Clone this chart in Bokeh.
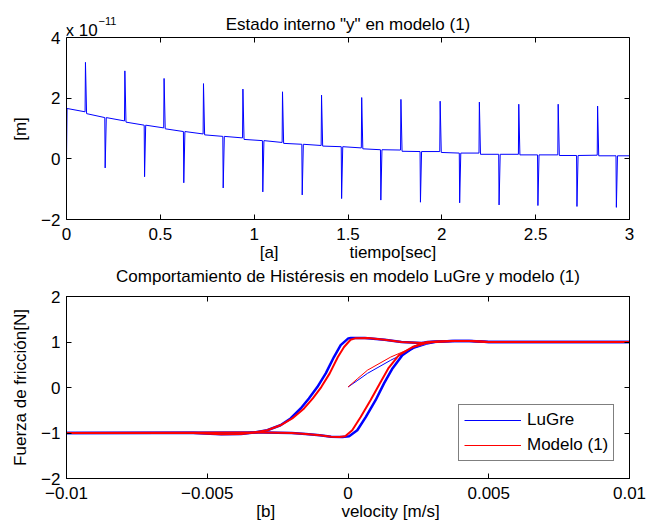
from bokeh.plotting import figure
from bokeh.models import LinearAxis, FixedTicker, Range1d, Label, Legend, LegendItem
from bokeh.layouts import column
from bokeh.embed import file_html
from bokeh.resources import INLINE

FONT = "Liberation Sans"
FS = "17px"
NB = "\u00a0"

# ---------------- top chart data (y in units of 1e-11 m) ----------------
start_t = [0.0, 0.003]
start_y = [0.0, 1.66]
up_spike_t = [0.101, 0.311, 0.520, 0.730, 0.940, 1.151, 1.359, 1.573, 1.782, 1.991, 2.200, 2.410, 2.620, 2.830]
up_spike_peak = [3.18, 2.90, 2.65, 2.48, 2.30, 2.21, 2.10, 2.02, 1.96, 1.90, 1.87, 1.80, 1.80, 1.74]
up_base_before = [1.55, 1.25, 1.02, 0.82, 0.69, 0.54, 0.44, 0.36, 0.29, 0.24, 0.19, 0.15, 0.13, 0.12]
up_base_after = [1.49, 1.21, 0.99, 0.79, 0.64, 0.51, 0.42, 0.33, 0.25, 0.21, 0.15, 0.13, 0.11, 0.10]
down_spike_t = [0.206, 0.416, 0.625, 0.835, 1.046, 1.256, 1.466, 1.675, 1.886, 2.095, 2.305, 2.512, 2.720, 2.930]
down_spike_peak = [-0.30, -0.59, -0.79, -0.96, -1.09, -1.19, -1.31, -1.36, -1.43, -1.45, -1.52, -1.54, -1.57, -1.60]
down_base = [1.36, 1.11, 0.90, 0.74, 0.60, 0.48, 0.40, 0.30, 0.24, 0.19, 0.15, 0.13, 0.11, 0.10]
end_t = [3.0]
end_y = [0.10]

top_xticks = [0, 0.5, 1, 1.5, 2, 2.5, 3]
top_yticks = [-2, 0, 2, 4]
top_ymin, top_ymax = -2, 4

# ---------------- bottom chart data ----------------
lugre_dn_v = [0.01, 0.005, 0.0043, 0.0037, 0.003, 0.0026, 0.0019, 0.0013, 0.0006, 0.0001, 0.00001,
              -0.00026, -0.0005, -0.00079, -0.00109, -0.00139, -0.00168, -0.00204, -0.0024, -0.00287,
              -0.00334, -0.0038, -0.0045, -0.0055, -0.01]
lugre_dn_f = [1.0, 1.0, 1.02, 1.02, 1.0, 0.98, 1.0, 1.05, 1.09, 1.09, 1.08,
              0.93, 0.67, 0.31, 0.01, -0.24, -0.46, -0.68, -0.83, -0.94,
              -0.99, -1.02, -1.03, -1.0, -1.0]
lugre_up_v = [-0.01, -0.003, -0.002, -0.0015, -0.001, -0.0006, -0.0002, 0.00004, 0.00033, 0.00063,
              0.00098, 0.00128, 0.00158, 0.00193, 0.00235, 0.00282, 0.0032, 0.0038, 0.0044, 0.005, 0.01]
lugre_up_f = [-1.0, -0.99, -1.0, -1.02, -1.05, -1.08, -1.09, -1.07, -0.94, -0.65,
              -0.28, 0.09, 0.42, 0.71, 0.89, 1.0, 1.01, 1.02, 1.02, 1.0, 1.0]
model_dn_v = [0.01, 0.005, 0.0043, 0.0037, 0.003, 0.0026, 0.0019, 0.0013, 0.0007, 0.00025, 0.00009,
              -0.00014, -0.00036, -0.00065, -0.00095, -0.00125, -0.00156, -0.00198, -0.0024, -0.00287,
              -0.00334, -0.0038, -0.0045, -0.0055, -0.01]
model_dn_f = [1.0, 1.0, 1.02, 1.02, 1.0, 0.98, 1.0, 1.05, 1.09, 1.08, 1.05,
              0.89, 0.67, 0.31, 0.01, -0.24, -0.46, -0.68, -0.83, -0.94,
              -0.99, -1.02, -1.03, -1.0, -1.0]
model_up_v = [-0.01, -0.003, -0.002, -0.0015, -0.001, -0.0006, -0.0003, -0.0001, 0.00015, 0.00045,
              0.0008, 0.00113, 0.00143, 0.00181, 0.00229, 0.00282, 0.0032, 0.0038, 0.0044, 0.005, 0.01]
model_up_f = [-1.0, -0.99, -1.0, -1.02, -1.05, -1.08, -1.09, -1.07, -0.94, -0.65,
              -0.28, 0.09, 0.42, 0.71, 0.89, 1.0, 1.01, 1.02, 1.02, 1.0, 1.0]
init_v = [0.0, 0.00035, 0.00069, 0.00152, 0.00235, 0.0028, 0.0032]
lugre_init_f = [0.01, 0.16, 0.31, 0.60, 0.86, 0.95, 1.0]
model_init_f = [0.01, 0.20, 0.38, 0.67, 0.89, 0.97, 1.0]

bot_xticks = [-0.01, -0.005, 0, 0.005, 0.01]
bot_xlabels = ["\u22120.01", "\u22120.005", "0", "0.005", "0.01"]
bot_yticks = [-2, -1, 0, 1, 2]

BLUE = "#0000ff"
RED = "#ff0000"


def minus(v):
    return ("%g" % v).replace("-", "\u2212")


def style_axis(ax, ticks, labels=None, show=True):
    ax.ticker = FixedTicker(ticks=ticks)
    ax.major_tick_in = 5
    ax.major_tick_out = 0
    ax.minor_tick_line_color = None
    ax.axis_line_color = "black"
    ax.major_tick_line_color = "black"
    ax.axis_line_width = 1
    if show:
        if labels is None:
            labels = [minus(t) for t in ticks]
        ax.major_label_overrides = {t: l for t, l in zip(ticks, labels)}
        ax.major_label_text_font = FONT
        ax.major_label_text_font_size = FS
        ax.major_label_text_color = "black"
        ax.axis_label_text_font = FONT
        ax.axis_label_text_font_size = FS
        ax.axis_label_text_font_style = "normal"
        ax.axis_label_text_color = "black"
    else:
        ax.major_label_overrides = {t: "" for t in ticks}
        ax.major_label_text_font_size = "0px"
        ax.major_label_standoff = 0


def make_fig(height, top, bottom, xr, yr, xticks, yticks, xlabels=None):
    p = figure(width=655, height=height, output_backend="svg", toolbar_location=None, title=None,
               x_range=Range1d(*xr), y_range=Range1d(*yr),
               min_border_left=66, min_border_right=26, min_border_top=top, min_border_bottom=bottom)
    p.grid.visible = False
    p.outline_line_color = "black"
    p.background_fill_color = "white"
    p.border_fill_color = "white"
    ax_b = p.xaxis[0]
    ax_l = p.yaxis[0]
    style_axis(ax_b, xticks, xlabels)
    style_axis(ax_l, yticks)
    ax_t = LinearAxis()
    style_axis(ax_t, xticks, show=False)
    p.add_layout(ax_t, "above")
    ax_r = LinearAxis()
    style_axis(ax_r, yticks, show=False)
    p.add_layout(ax_r, "right")
    return p, ax_b, ax_l, ax_t, ax_r


# ---------------- top figure ----------------
# frame is extended upwards so the title and the multiplier can be drawn as labels;
# the visible box is drawn by the axes (bounded to the data range)
TOP_FRAME_TOP = 5
TOP_BOX_TOP = 37
TOP_FRAME_BOTTOM = 219
px_per_unit = (TOP_FRAME_BOTTOM - TOP_BOX_TOP) / (top_ymax - top_ymin)
ext = (TOP_BOX_TOP - TOP_FRAME_TOP) / px_per_unit
p1, p1_xax, p1_yax, p1_tax, p1_rax = make_fig(289, TOP_FRAME_TOP, 289 - TOP_FRAME_BOTTOM, (0, 3),
                                              (top_ymin, top_ymax + ext), top_xticks, top_yticks)
p1.outline_line_color = None
p1_yax.bounds = (top_ymin, top_ymax)
p1_rax.bounds = (top_ymin, top_ymax)
p1_tax.fixed_location = top_ymax
p1_xax.axis_label = "[a]" + NB * 15 + "tiempo[sec]"
p1_xax.major_label_standoff = 8
p1_xax.axis_label_standoff = 0
p1_yax.axis_label = "[m]" + NB * 7
p1_yax.major_label_standoff = 6
p1_yax.axis_label_standoff = 8

# title of the lower chart, placed under the upper chart
ax_title2 = LinearAxis(ticker=FixedTicker(ticks=[]), major_tick_in=0, major_tick_out=0,
                       axis_line_color=None, major_tick_line_color=None, minor_tick_line_color=None,
                       major_label_text_font_size="0px", major_label_standoff=0,
                       axis_label="Comportamiento de Hist\u00e9resis en modelo LuGre y modelo (1)",
                       axis_label_text_font=FONT, axis_label_text_font_size=FS,
                       axis_label_text_font_style="normal", axis_label_text_color="black",
                       axis_label_standoff=2)
p1.add_layout(ax_title2, "below")

events = []
for t, pk, b0, b1 in zip(up_spike_t, up_spike_peak, up_base_before, up_base_after):
    events.append((t, [(t - 0.002, b0), (t, pk), (t + 0.006, b1)]))
for t, pk, b in zip(down_spike_t, down_spike_peak, down_base):
    events.append((t, [(t - 0.002, b), (t, pk), (t + 0.006, b)]))
events.sort(key=lambda e: e[0])
ts = list(start_t)
ys = list(start_y)
for _, pts in events:
    for a, b in pts:
        ts.append(a)
        ys.append(b)
ts += end_t
ys += end_y
p1.line(ts, ys, line_color=BLUE, line_width=1)

p1.add_layout(Label(x=1.5, y=top_ymax, y_offset=13, text='Estado interno "y" en modelo (1)',
                    text_font=FONT, text_font_size=FS, text_color="black",
                    text_align="center", text_baseline="alphabetic"))
p1.add_layout(Label(x=0, y=top_ymax, x_offset=-1, y_offset=7, text="x 10", text_font=FONT,
                    text_font_size=FS, text_color="black", text_baseline="alphabetic"))
p1.add_layout(Label(x=0, y=top_ymax, x_offset=32, y_offset=17, text="\u221211", text_font=FONT,
                    text_font_size="11px", text_color="black", text_baseline="alphabetic"))

# ---------------- bottom figure ----------------
p2, p2_xax, p2_yax, p2_tax, p2_rax = make_fig(524 - 289, 296 - 289, 46, (-0.01, 0.01), (-2, 2),
                                              bot_xticks, bot_yticks, bot_xlabels)
p2_xax.axis_label = "[b]" + NB * 14 + "velocity [m/s]"
p2_xax.major_label_standoff = 8
p2_xax.axis_label_standoff = 0
p2_yax.axis_label = "Fuerza de fricci\u00f3n[N]"
p2_yax.major_label_standoff = 6
p2_yax.axis_label_standoff = 8

p2.line(lugre_dn_v, lugre_dn_f, line_color=BLUE, line_width=2.5)
p2.line(lugre_up_v, lugre_up_f, line_color=BLUE, line_width=2.5)
r_lugre = p2.line(init_v, lugre_init_f, line_color=BLUE, line_width=1)
p2.line(model_dn_v, model_dn_f, line_color=RED, line_width=2)
p2.line(model_up_v, model_up_f, line_color=RED, line_width=2)
r_model = p2.line(init_v, model_init_f, line_color=RED, line_width=1)

legend = Legend(items=[LegendItem(label="LuGre", renderers=[r_lugre]),
                       LegendItem(label="Modelo (1)", renderers=[r_model])],
                location=(392, 17))
legend.label_text_font = FONT
legend.label_text_font_size = FS
legend.label_text_color = "black"
legend.glyph_width = 57
legend.glyph_height = 20
legend.label_height = 20
legend.label_standoff = 6
legend.spacing = 5
legend.padding = 5
legend.margin = 0
legend.border_line_color = "black"
legend.border_line_width = 1
legend.background_fill_color = "white"
legend.background_fill_alpha = 1
p2.add_layout(legend, "center")

layout = column(p1, p2, spacing=0)
open("out.html", "w").write(file_html(layout, INLINE))
